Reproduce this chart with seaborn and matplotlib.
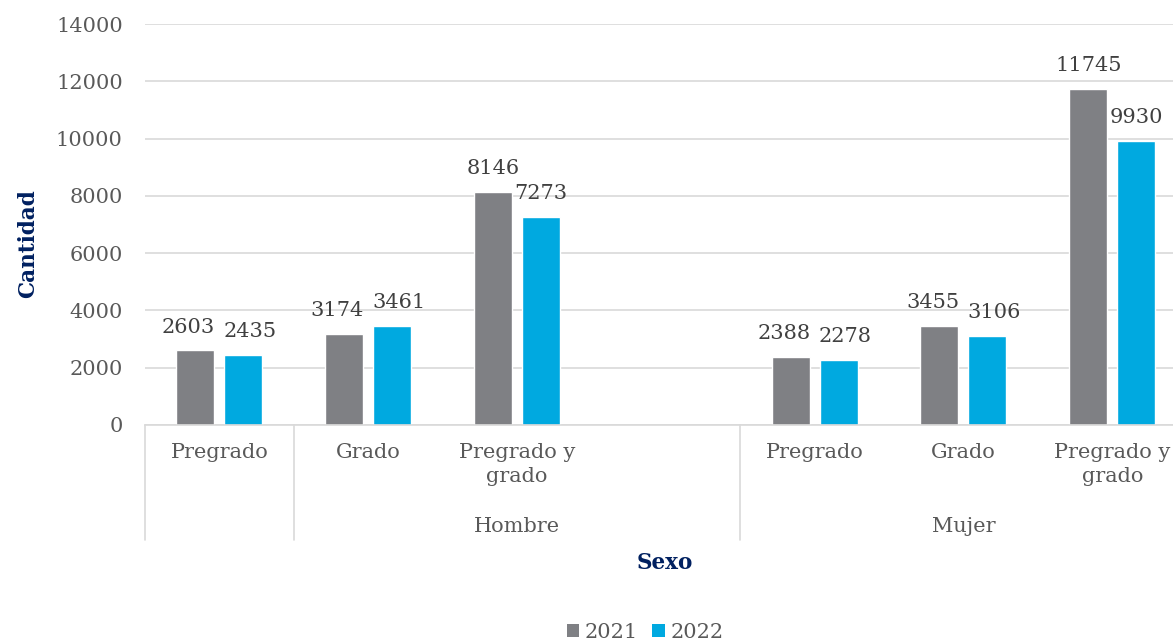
import matplotlib
matplotlib.use("Agg")
import matplotlib.pyplot as plt
import matplotlib.transforms as mtransforms
from matplotlib.patches import Patch
import pandas as pd
import seaborn as sns

# category slots (one empty slot between the two groups, as in the source chart)
slots = ["H_Pregrado", "H_Grado", "H_PyG", "vacio", "M_Pregrado", "M_Grado", "M_PyG"]
slot_labels = ["Pregrado", "Grado", "Pregrado y\ngrado", "", "Pregrado", "Grado", "Pregrado y\ngrado"]
data_slots = ["H_Pregrado", "H_Grado", "H_PyG", "M_Pregrado", "M_Grado", "M_PyG"]
years = ["2021", "2022"]
values_2021 = [2603, 3174, 8146, 2388, 3455, 11745]
values_2022 = [2435, 3461, 7273, 2278, 3106, 9930]
groups = ["Hombre", "Mujer"]

df = pd.DataFrame({
    "slot": data_slots * 2,
    "year": ["2021"] * len(data_slots) + ["2022"] * len(data_slots),
    "value": values_2021 + values_2022,
})

sns.set_style("white")
plt.rcParams["font.family"] = ["DejaVu Serif"]

fs = 15
tick_color = "#595959"
label_color = "#404040"
navy = "#002060"
grid_color = "#d9d9d9"
palette = {"2021": "#7f8084", "2022": "#00a9e0"}

W, H = 1173, 641
fig = plt.figure(figsize=(W / 100, H / 100), dpi=100)
ax = fig.add_axes([145 / W, 1 - 425 / H, 1 - 145 / W, (425 - 24) / H])

sns.barplot(data=df, x="slot", y="value", hue="year", order=slots,
            hue_order=years, palette=palette, width=0.645, gap=0.21,
            saturation=1, legend=False, ax=ax)

cat_px = 148.8
ax.set_xlim(-0.5, -0.5 + (W - 145) / cat_px)
ax.set_ylim(0, 14000)
ax.set_yticks(range(0, 14001, 2000))
ax.yaxis.grid(True, color=grid_color, linewidth=1.2)
ax.set_axisbelow(True)
for s in ["top", "right", "left"]:
    ax.spines[s].set_visible(False)
ax.spines["bottom"].set_color(grid_color)
ax.spines["bottom"].set_linewidth(1.2)

ax.tick_params(axis="y", length=0, pad=16, labelsize=fs, labelcolor=tick_color)
ax.tick_params(axis="x", length=0, pad=13, labelsize=fs, labelcolor=tick_color)
ax.set_xticks(range(len(slots)))
ax.set_xticklabels(slot_labels, linespacing=1.3)
ax.set_xlabel("")
ax.set_ylabel("")

# value labels; like Excel, push the two labels of a pair apart when they sit
# at about the same height
px_per_unit = (425 - 24) / 14000
c21, c22 = ax.containers[0], ax.containers[1]
for b1, b2, v1, v2 in zip(c21, c22, values_2021, values_2022):
    close = abs(v1 - v2) * px_per_unit < 20
    shift = 5 if close else 0
    for bar, v, sgn in [(b1, v1, -1), (b2, v2, 1)]:
        ax.annotate(f"{v}", (bar.get_x() + bar.get_width() / 2, v),
                    xytext=(sgn * shift, 10), textcoords="offset points",
                    ha="center", va="bottom", fontsize=fs, color=label_color)

# multi-level category axis dividers and group labels
trans = mtransforms.blended_transform_factory(ax.transData, ax.transAxes)
y_low = -(540 - 425) / (425 - 24)
for xd in [-0.5, 0.5, 3.5]:
    ax.plot([xd, xd], [0, y_low], transform=trans, color=grid_color,
            linewidth=1.2, clip_on=False)
y_grp = -(526 - 425) / (425 - 24)
ax.text(2.0, y_grp, groups[0], transform=trans, ha="center", va="center",
        fontsize=fs, color=tick_color)
ax.text(5.0, y_grp, groups[1], transform=trans, ha="center", va="center",
        fontsize=fs, color=tick_color)

fig.text(28 / W, 1 - 244 / H, "Cantidad", rotation=90, ha="center", va="center",
         fontsize=15.5, fontweight="bold", color=navy)
fig.text(665 / W, 1 - 563 / H, "Sexo", ha="center", va="center",
         fontsize=15.5, fontweight="bold", color=navy)

handles = [Patch(facecolor=palette[y], edgecolor="none", label=y) for y in years]
leg = fig.legend(handles=handles, loc="center", bbox_to_anchor=(645 / W, 1 - 632 / H),
                 ncol=2, frameon=False, fontsize=fs, handlelength=0.6,
                 handleheight=0.6, handletextpad=0.25, columnspacing=0.7)
for t in leg.get_texts():
    t.set_color(tick_color)

fig.savefig("out.png", dpi=100)
